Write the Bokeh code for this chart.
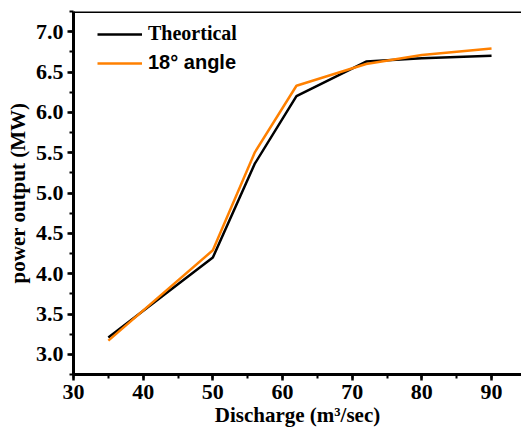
from bokeh.plotting import figure
from bokeh.models import (Range1d, Span, SingleIntervalTicker,
                          PrintfTickFormatter, Legend, LegendItem)
from bokeh.embed import file_html
from bokeh.resources import INLINE

# Data
discharge = [35, 50, 56, 62, 72, 80, 90]
theoretical = [3.21, 4.20, 5.36, 6.20, 6.63, 6.67, 6.70]
angle18 = [3.17, 4.29, 5.50, 6.33, 6.60, 6.71, 6.79]

x_ticks = [30, 40, 50, 60, 70, 80, 90]
y_ticks = [3.0, 3.5, 4.0, 4.5, 5.0, 5.5, 6.0, 6.5, 7.0]

SERIF = "Liberation Serif"
SANS = "Liberation Sans"

p = figure(width=521, height=432, output_backend="svg", toolbar_location=None,
           x_range=Range1d(30, 94.3), y_range=Range1d(2.75, 7.25),
           min_border_left=73, min_border_right=0, min_border_top=11,
           min_border_bottom=58)
p.outline_line_color = None
p.xgrid.visible = False
p.ygrid.visible = False
p.background_fill_color = "white"
p.border_fill_color = "white"

r1 = p.line(discharge, theoretical, line_color="black", line_width=2.5)
r2 = p.line(discharge, angle18, line_color="#FF8000", line_width=2.5)

for ax in (p.xaxis[0], p.yaxis[0]):
    ax.axis_line_width = 3
    ax.axis_line_color = "black"
    ax.major_tick_line_width = 2.5
    ax.minor_tick_line_width = 2
    ax.major_tick_in = 0
    ax.major_tick_out = 6
    ax.minor_tick_in = 0
    ax.minor_tick_out = 4
    ax.major_label_text_font = SERIF
    ax.major_label_text_font_style = "bold"
    ax.major_label_text_font_size = "22px"
    ax.major_label_text_color = "black"
    ax.axis_label_text_font = SERIF
    ax.axis_label_text_font_style = "bold"
    ax.axis_label_text_font_size = "21px"
    ax.axis_label_text_color = "black"

p.xaxis[0].ticker = SingleIntervalTicker(interval=10, num_minor_ticks=2)
p.yaxis[0].ticker = SingleIntervalTicker(interval=0.5, num_minor_ticks=2)
p.yaxis[0].formatter = PrintfTickFormatter(format="%.1f")
p.xaxis[0].axis_label = "Discharge (m³/sec)"
p.yaxis[0].axis_label = "power output (MW)"
p.xaxis[0].axis_label_standoff = 1
p.yaxis[0].axis_label_standoff = 3
p.xaxis[0].major_label_standoff = 4
p.yaxis[0].major_label_standoff = 4

top_line = Span(location=p.y_range.end, dimension="width", line_color="black",
                line_width=3)
p.add_layout(top_line)

leg1 = Legend(items=[LegendItem(label="Theortical", renderers=[r1])],
              location=(24, 329), padding=0, margin=0, spacing=0,
              glyph_width=45, glyph_height=20, label_standoff=6,
              label_text_font=SERIF, label_text_font_style="bold",
              label_text_font_size="20px", label_text_color="black",
              border_line_color=None, background_fill_alpha=0)
leg2 = Legend(items=[LegendItem(label="18° angle", renderers=[r2])],
              location=(24, 300), padding=0, margin=0, spacing=0,
              glyph_width=45, glyph_height=20, label_standoff=6,
              label_text_font=SANS, label_text_font_style="bold",
              label_text_font_size="20px", label_text_color="black",
              border_line_color=None, background_fill_alpha=0)
p.add_layout(leg1, "center")
p.add_layout(leg2, "center")

open("out.html", "w").write(file_html(p, INLINE))
